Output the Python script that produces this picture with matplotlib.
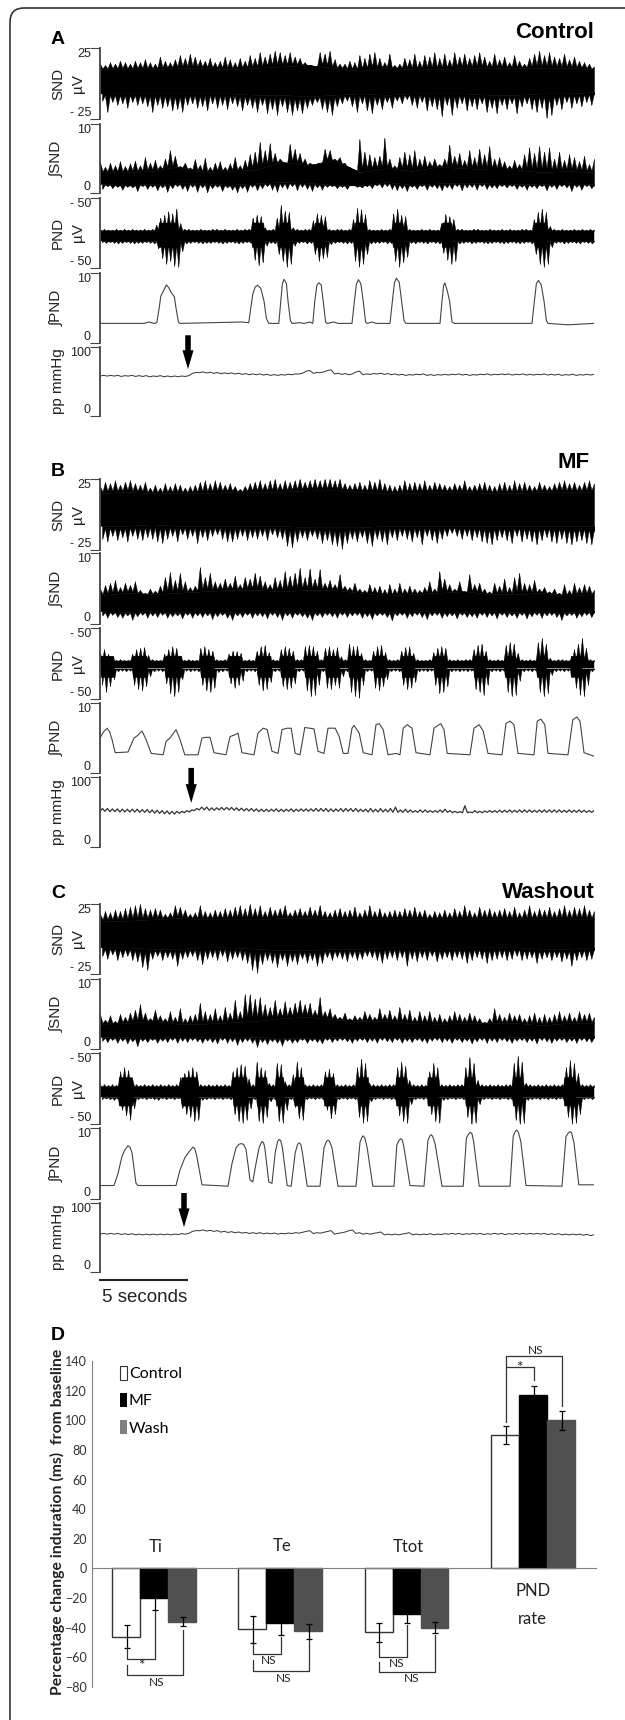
import matplotlib
matplotlib.use("Agg")
import matplotlib.pyplot as plt
import numpy as np
from matplotlib.patches import PathPatch, Patch
from matplotlib.path import Path

plt.rcParams["font.family"] = ["Liberation Sans", "DejaVu Sans"]

# recording time runs in samples, 217 samples is the 5 second scale bar
trace_end = 1235
scale_bar = 217

# panel A, tips of the raw traces
snd_a_up = [14,13,15,14,16,15,14,16,15,17, 15,14,19,16,15,17,20,18,21,19, 17,16,18,15,16,19,17,15,18,16,
            20,18,22,19,21,23,22,20,22,19, 18,15,13,11,22,21,23,17,14,14, 16,15,20,18,21,22,18,15,21,13,
            14,18,17,21,16,20,19,22,18,21, 17,22,19,21,18,20,22,19,16,21, 17,19,15,20,16,14,18,21,23,20,
            22,19,18,21,17,19,16,15,14,12]
snd_a_low = [-12,-20,-13,-15,-14,-17,-13,-15,-14,-16, -20,-15,-17,-16,-19,-18,-20,-15,-14,-17, -16,-19,-14,-17,-15,-18,-14,-16,-19,-15,
             -17,-20,-15,-21,-18,-22,-16,-20,-22,-19, -21,-17,-15,-13,-18,-20,-22,-16,-14,-12, -16,-20,-14,-19,-21,-15,-18,-13,-17,-12,
             -14,-11,-15,-17,-13,-19,-16,-18,-23,-15, -22,-17,-14,-19,-16,-18,-14,-20,-17,-21, -15,-18,-14,-21,-16,-14,-18,-20,-17,-24,
             -22,-15,-18,-13,-17,-14,-16,-13,-15,-11]
snd_a_core_up = [10,10,10,11,11,10,11,12,13,11,9,11,10,10,11,11,11,11,11,10]
snd_a_core_low = [-7,-7,-7,-7,-7,-7,-8,-8,-9,-8,-7,-8,-7,-7,-7,-8,-8,-7,-7,-6]

int_snd_a_up = [4.5,3.8,4.4,4.0,4.6,3.9,4.3,4.7,4.0,5.2, 4.4,4.8,4.0,5.0,6.2,5.4,3.9,4.4,3.7,4.9, 4.1,5.1,3.8,4.4,4.6,3.8,4.3,5.2,4.0,4.8,
                5.6,6.0,7.4,6.2,7.2,5.8,5.0,3.9,7.1,6.4, 5.8,5.0,4.4,3.6,4.4,6.4,6.2,5.0,5.2,4.4, 3.8,3.4,7.8,6.0,5.6,5.2,5.4,8.0,5.0,4.0,
                5.2,6.0,5.6,6.2,5.0,5.4,4.6,5.0,4.2,5.0, 7.0,5.4,5.8,4.8,6.2,5.2,6.4,5.6,6.8,5.0, 5.2,4.6,4.0,4.8,4.2,5.6,6.6,5.8,6.8,6.0,
                6.6,5.0,6.0,4.8,5.6,5.2,4.6,5.4,4.2,5.0]
int_snd_a_low = [0.6,1.0,0.7,0.9,0.5,0.9,0.8,0.3,1.0,0.6, 0.9,0.4,0.8,0.2,0.7,1.0,0.6,0.3,0.9,0.2, 0.8,0.1,0.7,0.9,0.3,0.8,0.5,0.1,0.7,0.2,
                 0.9,0.4,0.7,1.0,0.5,0.2,0.8,0.6,1.0,0.4, 0.9,0.6,0.3,0.8,0.5,0.9,1.0,0.7,0.9,0.6, 1.1,0.9,0.8,1.0,0.7,1.1,0.8,1.0,0.6,0.4,
                 0.7,0.3,0.9,0.6,1.0,0.5,0.9,0.7,0.4,0.8, 0.6,1.0,0.4,0.8,0.9,0.5,1.0,0.6,0.8,0.7, 1.0,0.8,1.0,0.6,0.9,0.5,0.9,0.7,1.0,0.4,
                 0.9,0.6,1.0,0.8,0.3,0.9,0.5,1.0,0.7,0.3]
int_snd_a_core_up = [3.0,3.0,3.2,3.8,3.0,3.2,3.4,4.5,4.0,4.8,3.0,3.6,3.2,3.8,3.6,3.4,3.4,3.0,3.2,3.0]
int_snd_a_core_low = [1.3,1.2,1.3,1.4,1.4,1.2,1.4,1.6,1.5,1.2,1.1,1.6,1.2,1.4,1.5,1.4,1.3,1.3,1.4,1.3]

pnd_a_up = [5,6,5,5,6,5,6,5,6,5, 5,6,5,6,12,22,26,31,28,35, 14,6,6,5,5,6,5,5,6,6, 5,6,5,5,6,5,6,6,22,26,
            24,8,5,6,22,40,32,30,8,6, 5,6,6,18,28,26,24,6,5,6, 6,5,6,20,36,34,27,6,5,5, 6,5,6,28,35,26,24,6,5,5,
            6,5,6,5,5,14,27,24,20,6, 6,5,5,6,6,5,5,6,5,5, 6,5,6,5,5,6,6,5,20,30, 35,30,10,6,5,6,5,5,6,5, 6,5,6,5]
pnd_a_low = [-13,-14,-13,-14,-15,-14,-13,-14,-15,-14, -14,-13,-14,-15,-22,-36,-44,-40,-47,-48, -26,-15,-14,-13,-14,-15,-14,-14,-13,-14,
             -15,-14,-13,-14,-15,-14,-13,-14,-38,-46, -42,-18,-14,-15,-30,-40,-48,-44,-18,-14, -13,-15,-14,-30,-40,-36,-34,-16,-14,-13,
             -14,-15,-14,-40,-48,-44,-30,-15,-14,-14, -13,-15,-14,-40,-48,-42,-34,-14,-15,-13, -14,-15,-13,-14,-15,-28,-38,-44,-40,-15,
             -14,-13,-15,-14,-13,-14,-15,-14,-13,-14, -15,-14,-13,-14,-15,-14,-13,-15,-30,-44, -48,-44,-20,-14,-13,-15,-14,-13,-14,-15, -13,-14,-15,-14]
pnd_a_base = (3, -11)
pnd_a_start = [145, 378, 447, 535, 635, 730, 853, 1085]
pnd_a_stop = [195, 410, 475, 558, 662, 758, 880, 1115]
pnd_a_burst = (15, -20)

int_pnd_a_t = [0,110,122,135,142,148,152,160,166,172,178,186,190,196,200, 355,372,377,382,388,394,402,410,416,422,
               447,452,456,460,466,470,476,480, 500,510,525,532,537,542,547,553,558,564,568, 585,595,630,636,641,646,652,658,664,668,
               680,690,725,731,736,741,748,754,760,765, 850,855,859,862,868,874,880,886, 1080,1086,1091,1096,1103,1110,1116,1120,1170,1235]
int_pnd_a_v = [2.8,2.8,3.0,2.8,2.9,5.0,6.7,7.6,8.3,7.9,7.2,6.6,5.0,3.0,2.8, 3.0,2.9,5.0,7.0,8.0,8.25,7.8,6.0,3.5,2.8,
               2.8,6.0,8.5,9.1,8.5,6.0,3.2,2.8, 2.9,2.8,3.0,2.8,6.0,8.2,8.6,8.3,6.0,3.0,2.8, 3.0,2.8,2.8,6.0,8.4,9.05,8.5,6.0,3.0,2.8,
               3.0,2.8,2.8,6.0,8.6,9.25,8.7,6.0,3.2,2.8, 2.8,6.0,8.2,8.6,7.5,6.0,3.0,2.8, 2.8,6.0,8.5,8.95,8.3,6.0,3.2,2.8,2.6,2.8]

pp_a_top = [59,59,59,58.5,59,58.5,58.5,58,58.5,58, 58,58,58.5,63,64,63.5,63,62.5,62.5,62,
            61.5,61,61,60.5,60,60,60.5,61,62,66, 63,64,67,62,61.5,61,65,61,61.5,62,
            61.5,61,60.5,60,60.5,61,60,60,60.5,60.5, 61,60.5,60,60.5,61,60.5,61,61,60.5,61,
            60.5,60.5,61,60.5,60.5,60,60.5,60,60.5,60.5]
pp_a_swing = 1.2
pp_a_arrow = (220, 68, 117)

# panel B
snd_b_up = [20,23,22,24,21,23,24,22,21,23, 19,21,19,22,20,22,21,19,20,21, 23,24,22,24,23,21,22,20,18,20,
            22,23,24,22,24,25,22,24,23,24, 25,23,24,25,24,25,25,24,25,22, 21,22,23,21,24,23,25,22,21,20,
            21,24,22,23,22,24,21,23,22,21, 20,22,21,24,20,21,22,23,21,20, 22,23,21,24,22,23,21,20,23,21,
            20,22,23,24,22,23,21,23,24,22]
snd_b_low = [-17,-19,-15,-18,-16,-19,-15,-17,-18,-16, -17,-19,-20,-17,-15,-19,-14,-17,-15,-20, -16,-18,-15,-14,-17,-19,-19,-17,-15,-18,
             -16,-17,-15,-18,-14,-16,-17,-22,-23,-19, -16,-18,-15,-17,-20,-18,-21,-22,-24,-20, -17,-19,-16,-20,-22,-17,-19,-21,-16,-18,
             -15,-17,-19,-16,-21,-15,-18,-20,-17,-15, -13,-15,-17,-15,-18,-16,-19,-20,-21,-18, -16,-18,-20,-15,-19,-17,-19,-21,-18,-16,
             -19,-20,-17,-20,-21,-19,-18,-20,-21,-19]
snd_b_core_up = [15,16,15,15,15,16,16,16,17,17,16,15,15,16,16,15,15,16,16,16]
snd_b_core_low = [-8,-8,-7,-8,-8,-8,-8,-8,-9,-9,-9,-8,-8,-8,-8,-8,-8,-8,-8,-8]

int_snd_b_up = [5.0,5.5,5.8,6.2,5.2,5.8,5.5,6.0,4.8,4.4, 5.0,4.7,5.4,6.6,7.3,6.2,7.2,6.0,5.2,5.4, 8.0,6.6,7.2,6.0,5.8,6.4,5.8,6.8,5.6,6.6,
                6.4,7.2,6.8,6.0,5.6,6.6,6.2,7.4,6.8,7.2, 7.9,6.6,7.8,6.4,7.7,5.8,6.2,5.6,7.0,5.4, 5.2,5.8,5.0,4.8,5.6,5.2,5.4,4.9,5.6,5.0,
                5.8,5.0,5.4,5.0,4.8,5.2,6.0,5.0,7.4,6.4, 5.6,5.0,6.0,4.6,7.0,5.6,5.8,5.0,4.6,5.8, 5.4,6.4,5.2,6.6,7.2,5.8,5.6,6.2,5.0,5.2,
                4.6,5.0,4.4,5.6,4.8,5.8,5.2,5.6,5.4,4.8]
int_snd_b_low = [1.2,0.9,1.3,1.0,0.9,1.2,0.6,1.1,1.3,0.9, 1.2,1.0,1.3,0.9,1.1,1.2,0.8,1.3,0.9,1.2, 1.0,1.2,0.7,1.1,1.3,0.9,0.6,1.2,1.0,1.3,
                 0.9,1.2,1.1,0.8,1.3,1.0,0.6,1.2,0.9,1.3, 1.1,0.9,0.6,1.2,1.0,1.3,1.1,0.9,1.3,1.0, 1.2,1.3,0.9,1.1,0.7,1.2,1.3,1.0,0.5,1.2,
                 1.3,0.9,1.1,1.3,1.0,0.7,1.2,1.3,0.9,1.1, 1.2,0.8,1.3,1.0,1.1,0.9,1.3,1.0,1.2,0.8, 1.3,1.0,1.2,0.9,1.3,0.8,1.1,1.3,0.9,1.2,
                 1.3,1.0,0.6,1.2,1.3,0.9,1.1,1.3,1.0,1.2]
int_snd_b_core_up = [4.0,4.4,4.2,4.4,4.6,4.8,4.8,4.6,4.8,4.8,4.4,4.0,4.2,4.4,4.6,4.2,4.2,4.4,4.0,4.2]
int_snd_b_core_low = [1.8,1.7,1.8,1.7,1.8,1.7,1.8,1.8,1.7,1.8,1.8,1.7,1.8,1.8,1.7,1.8,1.7,1.8,1.7,1.8]

pnd_b_up = [15,20,14,10,5,6,5,5,14,20, 22,23,12,6,5,5,14,20,24,22, 10,5,6,5,5,22,24,20,18,6, 5,6,14,18,17,15,5,6,5,18,
            24,26,16,6,5,20,24,22,18,6, 6,24,26,24,18,6,22,24,20,23, 10,6,28,24,25,15,6,5,18,24, 26,16,6,5,6,18,23,24,15,6,
            5,5,6,16,22,24,22,6,5,6, 5,6,6,20,26,28,18,6,5,6, 5,26,30,28,15,6,5,6,5,30, 36,28,8,5,6,6,5,5,20,28, 36,22,6,5]
pnd_b_low = [-30,-40,-32,-22,-11,-10,-11,-10,-30,-36, -38,-32,-18,-11,-10,-11,-28,-42,-46,-40, -22,-10,-11,-10,-11,-30,-38,-40,-34,-12,
             -11,-10,-28,-34,-30,-24,-11,-10,-11,-30, -38,-36,-26,-11,-10,-32,-36,-34,-28,-11, -10,-38,-46,-44,-30,-11,-34,-36,-30,-34,
             -18,-11,-40,-46,-48,-30,-11,-10,-34,-38, -32,-22,-11,-10,-11,-30,-36,-34,-26,-11, -10,-11,-10,-30,-42,-40,-32,-11,-10,-11,
             -10,-11,-10,-36,-40,-44,-30,-11,-10,-11, -10,-40,-46,-44,-24,-11,-10,-11,-10,-40, -46,-42,-16,-11,-10,-11,-10,-11,-34,-44, -46,-30,-11,-10]
pnd_b_base = (3, -7)
pnd_b_start = [0, 80, 162, 250, 320, 392, 450, 510, 563, 620, 683, 753, 835, 933, 1010, 1090, 1175]
pnd_b_stop = [35, 118, 205, 285, 350, 428, 485, 542, 598, 655, 715, 785, 865, 965, 1040, 1115, 1205]
pnd_b_burst = (11, -19)

int_pnd_b_t = [0,9,18,24,30,38,70,85,95,105,115,128,158,165,175,190,200,212,245,255,265,275,285,315,325,335,345,355,
               385,395,408,418,430,445,455,468,478,488,500,512,524,535,545,560,570,588,598,608,620,630,635,648,658,
               680,690,698,708,720,740,750,758,768,780,790,825,835,845,852,860,868,925,935,948,958,970,
               1005,1015,1025,1035,1045,1085,1093,1102,1112,1120,1170,1182,1192,1200,1210,1235]
int_pnd_b_v = [5.0,5.9,6.4,5.9,4.8,2.9,3.0,5.0,5.4,6.0,4.8,2.8,2.6,4.5,5.0,6.2,4.8,2.6,2.6,5.0,5.1,5.1,2.9,2.6,5.2,5.4,5.7,2.9,
               2.6,5.7,6.4,6.2,3.1,2.8,6.2,6.4,6.4,2.8,2.6,6.5,6.4,6.3,3.1,2.8,6.4,6.4,5.2,2.8,2.8,6.4,6.8,5.7,2.9,
               2.6,6.9,7.05,6.2,2.6,2.8,2.6,6.4,6.9,6.4,2.9,2.6,6.4,6.8,7.05,6.2,2.8,2.6,6.4,6.9,6.0,2.8,
               2.6,7.1,7.4,6.9,2.8,2.6,7.4,7.7,6.9,2.8,2.6,7.6,8.0,7.4,2.9,2.4]

pp_b_top = [55,55,54.5,54.5,54,54,54,54,53.5,53.5, 53,52.5,52,51.5,51,51,51,52,53,55, 57,57,56,56,56.5,56.5,56.5,56,55.5,55,
            55,54.5,54,54,54,54.5,54,54,54.5,54, 54.5,54.5,54.5,55,55,55,54.5,54.5,55,55, 55,55,54,54,55,54,55,54,55,57,
            53,54,53,52,53,53,52,52,53,54, 52,51,50.5,59,50,52,51,51.5,52,52, 52.5,52.5,53,52.5,53,53,53,52.5,53,53,
            53,53,53,52.5,53,52.5,53,52.5,52,52]
pp_b_low = [51,51,50.5,50.5,50,50,50,50,49.5,49.5, 49,48.5,48,47.5,47,47,48,49,50,52, 53,53,52.5,52.5,53,53,53,52.5,52,51.5,
            51.5,51,50.5,50.5,50.5,51,50.5,50.5,51,50.5, 51,51,51,51,51,51,50.5,50.5,51,50.5, 51,50.5,50.5,50.5,50,50,50,50,50,49.5,
            49.5,49.5,49.5,49.5,49.5,49.5,49.5,49.5,49.5,49.5, 49.5,49,49,49,49,49,49,49,49.5,49.5, 49.5,49.5,49.5,49.5,49.5,49.5,49.5,49.5,49.5,49.5,
            49.5,49.5,49.5,49.5,49.5,49.5,49.5,49.5,49.5,49.5]
pp_b_arrow = (228, 63, 113)

# panel C
snd_c_up = [18,20,19,21,20,22,23,24,25,22, 21,22,21,18,19,24,23,21,18,19, 24,20,19,21,20,22,21,23,24,22,
            25,22,24,20,23,21,22,24,19,21, 22,20,23,21,24,20,19,21,22,20, 21,23,19,21,24,20,22,19,20,21,
            20,22,21,23,20,21,18,20,19,21, 19,22,20,24,21,19,23,21,22,20, 21,22,20,23,19,21,24,20,22,21,
            23,20,22,24,21,23,22,24,21,20]
snd_c_low = [-12,-14,-11,-15,-13,-12,-15,-16,-20,-22, -14,-12,-15,-13,-14,-19,-14,-13,-12,-15, -18,-14,-13,-15,-12,-16,-14,-13,-15,-17,
             -22,-24,-18,-15,-17,-20,-15,-19,-16,-18, -14,-17,-15,-19,-17,-13,-15,-13,-14,-16, -13,-15,-14,-12,-13,-15,-17,-14,-13,-15,
             -13,-19,-14,-16,-13,-15,-12,-16,-14,-13, -15,-13,-14,-17,-15,-13,-14,-17,-15,-14, -13,-15,-14,-12,-15,-14,-13,-17,-14,-13,
             -15,-13,-16,-14,-19,-15,-13,-15,-14,-12]
snd_c_core_up = [13,13,14,15,14,14,14,15,15,14,14,14,14,14,14,14,14,14,14,14]
snd_c_core_low = [-6,-6,-7,-7,-6,-6,-7,-8,-8,-7,-7,-6,-6,-7,-6,-6,-6,-7,-7,-6]

int_snd_c_up = [5.0,4.2,4.8,4.0,5.0,4.6,5.2,5.6,6.4,5.2, 4.4,5.6,4.8,4.4,5.4,4.6,5.8,4.4,4.8,5.0, 6.6,5.4,5.0,5.8,4.8,6.0,5.2,7.0,5.4,7.8,
                7.8,7.2,7.4,6.4,6.0,7.0,5.8,6.8,6.0,6.6, 7.0,6.4,6.6,5.6,7.4,5.4,5.8,5.0,4.6,5.2, 4.4,4.8,4.6,5.4,5.0,4.6,5.8,5.0,5.6,4.8,
                6.0,5.0,5.6,4.6,5.4,4.8,5.4,4.6,5.0,4.4, 4.8,5.4,5.0,4.6,5.2,4.8,4.4,3.9,4.4,5.8, 5.0,4.6,5.2,4.8,5.0,4.4,4.8,5.2,4.6,5.0,
                4.6,5.0,5.4,4.8,5.2,4.6,5.4,5.0,5.2,4.6]
int_snd_c_low = [1.2,1.0,1.3,0.9,1.2,0.8,1.1,0.4,1.2,1.0, 1.3,0.9,1.2,1.0,1.3,0.9,1.2,1.0,1.3,1.1, 0.9,1.2,1.0,0.8,1.3,0.9,1.1,0.6,1.0,1.2,
                 0.9,0.3,1.0,0.7,1.1,0.9,0.5,1.2,0.9,1.0, 1.3,0.9,1.2,1.0,0.8,1.3,1.0,1.2,1.3,1.1, 0.9,1.2,1.3,1.0,1.2,0.9,1.3,1.1,1.0,1.3,
                 0.9,1.2,1.0,1.3,1.1,0.9,1.2,1.3,1.0,1.2, 0.9,1.3,1.0,1.2,0.8,1.1,1.3,0.9,1.2,1.0, 1.3,1.1,0.9,1.2,1.3,1.0,1.2,0.8,1.3,1.1,
                 0.9,1.2,1.3,1.0,1.2,0.9,1.3,1.1,1.0,1.2]
int_snd_c_core_up = [3.6,3.7,4.0,3.6,3.6,3.8,4.0,4.4,4.6,4.2,4.0,4.0,3.7,3.6,3.7,3.7,3.7,3.4,3.7,3.7]
int_snd_c_core_low = [1.7,1.7,1.6,1.8,1.7,1.8,1.7,1.6,1.6,1.7,1.7,1.8,1.7,1.8,1.7,1.8,1.7,1.8,1.7,1.8]

pnd_c_up = [5,6,5,6,5,24,30,26,14,6, 5,6,5,6,5,6,5,6,5,6, 16,22,26,30,24,6,5,6,5,6, 5,6,5,24,30,34,32,14,6,38,
            30,26,8,6,36,34,10,6,20,38, 30,6,5,6,5,6,24,28,22,6, 5,6,5,6,30,42,36,8,6,5, 6,5,6,6,30,38,32,12,6,5,
            6,5,24,36,30,6,5,6,5,6, 6,30,44,36,12,6,5,6,5,6, 5,6,6,36,46,38,8,6,5,6, 5,6,5,6,5,6,30,40,36,22, 6,5,6,5]
pnd_c_low = [-15,-14,-15,-16,-15,-30,-38,-44,-28,-15, -14,-15,-14,-15,-16,-14,-15,-14,-15,-14, -28,-36,-40,-46,-44,-16,-15,-14,-15,-14,
             -15,-14,-15,-36,-46,-48,-44,-28,-15,-46, -48,-40,-18,-15,-46,-48,-30,-15,-26,-42, -44,-15,-14,-15,-14,-15,-30,-42,-36,-15,
             -14,-15,-14,-15,-40,-48,-46,-18,-15,-14, -15,-14,-15,-15,-38,-46,-48,-22,-15,-14, -15,-14,-36,-46,-48,-16,-15,-14,-15,-14,
             -15,-40,-50,-48,-22,-15,-14,-15,-14,-15, -14,-15,-15,-44,-50,-48,-16,-15,-14,-15, -14,-15,-14,-15,-14,-15,-40,-50,-48,-36, -15,-14,-15,-14]
pnd_c_base = (2, -12)
pnd_c_start = [45, 202, 332, 390, 438, 485, 558, 645, 738, 817, 912, 1030, 1158]
pnd_c_stop = [82, 245, 368, 418, 460, 510, 585, 672, 768, 845, 938, 1055, 1188]
pnd_c_burst = (16, -24)

int_pnd_c_t = [0,35,45,55,62,70,75,80,90,95,190,200,212,222,232,237,242,255,320,330,340,347,353,359,365,375,382,390,398,405,409,412,422,430,
               438,444,448,452,456,468,478,488,494,498,502,506,518,550,560,566,570,574,580,595,640,650,655,658,662,668,682,735,742,748,752,756,760,775,
               810,820,825,828,832,838,855,908,916,922,926,930,934,948,1025,1033,1038,1042,1046,1052,1065,1155,1165,1171,1175,1179,1185,1197,1235]
int_pnd_c_v = [1.9,1.9,3.6,6.0,6.9,7.5,7.3,6.5,2.2,1.9,1.9,4.1,5.8,6.6,7.3,7.1,6.0,2.0,1.8,5.0,7.2,7.7,7.8,7.7,7.0,2.7,2.4,5.0,7.3,8.1,7.9,7.2,2.4,2.2,
               6.5,8.1,8.4,8.2,7.2,1.9,1.8,6.5,7.7,7.9,7.7,6.5,1.8,1.8,7.2,8.1,8.3,8.1,7.2,1.8,1.8,8.0,8.7,8.9,8.6,7.2,1.8,1.8,7.6,8.3,8.5,8.3,7.2,1.9,
               1.8,8.3,8.9,9.05,8.8,7.7,1.8,1.8,8.6,9.2,9.4,9.2,8.1,1.8,1.8,8.8,9.5,9.7,9.4,8.1,1.9,1.8,8.8,9.3,9.5,9.3,7.9,2.0,2.0]

pp_c_top = [56,56,56,55.5,55.5,55,55,55,55,55, 55,55.5,56,60,61,60.5,60,59,58.5,58,
            57.5,57,57,56.5,56.5,56,56.5,57,57.5,60, 57,57.5,60,56,58,61,57,56,56,58,
            55,55,55,57,55,55,55.5,55,55.5,56, 56,55.5,56,56,55.5,56,56,55.5,56,56,
            56,56,56,55.5,55.5,55,55,55,54.5,54]
pp_c_swing = 1.2
pp_c_arrow = (210, 65, 114.5)

# panel D
groups = ["Ti", "Te", "Ttot", "PND\nrate"]
series_names = ["Control", "MF", "Wash"]
series_colors = ["white", "black", "#505050"]
control_vals = [-46, -41, -43, 90]
mf_vals = [-20, -37, -30.5, 117]
wash_vals = [-36, -42.5, -40, 100]
control_err = [8, 9, 6.3, 6.2]
mf_err = [8, 7.6, 6, 6]
wash_err = [3, 5, 3.7, 6.5]
group_label_y = [14.6, 15, 14.3, -10]

# group, bar 1, bar 2, line start at bar 1, line start at bar 2, bracket level
brackets = [(0, 0, 1, -53, -29, -61), (0, 0, 2, -65.3, -41.7, -71.6),
            (1, 0, 1, -50.7, -46, -58), (1, 0, 2, -61.5, -48.4, -69),
            (2, 0, 1, -49.5, -38.3, -60), (2, 0, 2, -63, -45, -69.8),
            (3, 0, 1, 99, 127, 136), (3, 0, 2, 136, 109.7, 143.7)]
sig_x = [-0.10, 0.02, 0.91, 1.03, 1.92, 2.04, 2.89, 3.02]
sig_y = [-66, -77, -62.4, -74, -64, -74.5, 135, 147]
sig_text = ["*", "NS", "NS", "NS", "NS", "NS", "*", "NS"]


fig = plt.figure(figsize=(6.25, 17.2), dpi=100)

# whole page in pixels, for the frame and the free text
page = fig.add_axes([0, 0, 1, 1])
page.set_xlim(0, 625)
page.set_ylim(1720, 0)
page.axis("off")


def trace_axes(top, bottom, ymin, ymax, labels):
    ax = fig.add_axes([100 / 625, 1 - bottom / 1720, 494 / 625, (bottom - top) / 1720])
    ax.patch.set_alpha(0)
    ax.set_xlim(0, trace_end)
    ax.set_ylim(ymin, ymax)
    for side in ["top", "right", "bottom"]:
        ax.spines[side].set_visible(False)
    ax.spines["left"].set_linewidth(1.3)
    ax.spines["left"].set_color("#444444")
    ax.set_xticks([])
    ax.set_yticks([ymin, ymax])
    ax.set_yticklabels(labels, fontsize=9, color="#222222")
    ax.tick_params(axis="y", length=7.2, width=0.8, color="#444444", pad=-0.7)
    ax.get_yticklabels()[0].set_va("bottom")
    ax.get_yticklabels()[1].set_va("top")
    return ax


def teeth(ax, tips, x_core, core, shift):
    # sharp spikes: every tip falls back towards the solid core before the next one
    tips = np.array(tips)
    x = np.linspace(0, trace_end, len(tips)) + shift
    step = x[1] - x[0]
    xs = np.empty(2 * len(x) - 1)
    xs[::2] = x
    xs[1::2] = x[:-1] + step / 2
    c_mid = np.interp(xs[1::2], x_core, core)
    nearest = np.where(np.abs(tips[:-1] - c_mid) < np.abs(tips[1:] - c_mid), tips[:-1], tips[1:])
    ys = np.empty(len(xs))
    ys[::2] = tips
    ys[1::2] = c_mid + 0.2 * (nearest - c_mid)
    base = np.interp(xs, x_core, core)
    # the thin edge closes the seam against the core
    ax.fill_between(xs, base, ys, color="black", lw=0.3)
    ax.vlines(x, base[::2], tips, color="black", lw=0.45, alpha=0.8)


def spiky_trace(ax, up, low, core_up, core_low):
    x_core = np.linspace(0, trace_end, len(core_up))
    ax.fill_between(x_core, core_low, core_up, color="black", lw=0.3)
    teeth(ax, up, x_core, core_up, 0)
    teeth(ax, low, x_core, core_low, 6)


def pnd_trace(ax, up, low, base, start, stop, burst):
    ax.fill_between([0, trace_end], base[1], base[0], color="black", lw=0.3)
    for s, e in zip(start, stop):
        ax.fill_between([s, s + 2, e - 2, e], [base[1], burst[1], burst[1], base[1]],
                        [base[0], burst[0], burst[0], base[0]], color="black", lw=0.3)
    teeth(ax, up, [0, trace_end], [base[0], base[0]], 0)
    teeth(ax, low, [0, trace_end], [base[1], base[1]], 5)


def pp_trace(ax, top, low, arrow, lw):
    # each heart beat goes from the low value to the top value
    y = np.column_stack((low, top)).ravel()
    x = np.linspace(0, trace_end, len(y))
    ax.plot(x, y, color="#333333", lw=lw)
    ax.annotate("", xy=(arrow[0], arrow[1]), xytext=(arrow[0], arrow[2]), annotation_clip=False,
                arrowprops=dict(width=4, headwidth=8, headlength=13.5, shrink=0, color="black", lw=0))


def side_labels(tops, bottoms):
    middles = [(t + b) / 2 for t, b in zip(tops, bottoms)]
    page.text(58, middles[0], "SND", rotation=90, ha="center", va="center", fontsize=11, color="#222222")
    page.text(78, middles[0], "µV", rotation=90, ha="center", va="center", fontsize=11, color="#222222")
    page.text(57, middles[1], "∫SND", rotation=90, ha="center", va="center", fontsize=11, color="#222222")
    page.text(58, middles[2], "PND", rotation=90, ha="center", va="center", fontsize=11, color="#222222")
    page.text(78, middles[2], "µV", rotation=90, ha="center", va="center", fontsize=11, color="#222222")
    page.text(57, middles[3], "∫PND", rotation=90, ha="center", va="center", fontsize=11, color="#222222")
    page.text(58, middles[4], "pp mmHg", rotation=90, ha="center", va="center", fontsize=11, color="#222222")


def draw_panel(tops, bottoms, snd, int_snd, pnd, int_pnd, pp):
    ax = trace_axes(tops[0], bottoms[0], -25, 25, ["- 25", "25"])
    spiky_trace(ax, *snd)
    ax = trace_axes(tops[1], bottoms[1], 0, 10, ["0", "10"])
    spiky_trace(ax, *int_snd)
    ax = trace_axes(tops[2], bottoms[2], -50, 50, ["- 50", "- 50"])
    pnd_trace(ax, *pnd)
    ax = trace_axes(tops[3], bottoms[3], 0, 10, ["0", "10"])
    ax.plot(int_pnd[0], int_pnd[1], color="#444444", lw=0.8)
    ax = trace_axes(tops[4], bottoms[4], 0, 100, ["0", "100"])
    pp_trace(ax, *pp)
    side_labels(tops, bottoms)
    return ax


draw_panel([48, 124, 198, 273, 347], [119, 193, 268, 343, 416],
           (snd_a_up, snd_a_low, snd_a_core_up, snd_a_core_low),
           (int_snd_a_up, int_snd_a_low, int_snd_a_core_up, int_snd_a_core_low),
           (pnd_a_up, pnd_a_low, pnd_a_base, pnd_a_start, pnd_a_stop, pnd_a_burst),
           (int_pnd_a_t, int_pnd_a_v),
           (pp_a_top, np.array(pp_a_top) - pp_a_swing, pp_a_arrow, 0.7))

draw_panel([479, 553, 628, 703, 777], [550, 624, 699, 773, 847],
           (snd_b_up, snd_b_low, snd_b_core_up, snd_b_core_low),
           (int_snd_b_up, int_snd_b_low, int_snd_b_core_up, int_snd_b_core_low),
           (pnd_b_up, pnd_b_low, pnd_b_base, pnd_b_start, pnd_b_stop, pnd_b_burst),
           (int_pnd_b_t, int_pnd_b_v),
           (pp_b_top, pp_b_low, pp_b_arrow, 0.9))

ax_c = draw_panel([904, 979, 1053, 1128, 1203], [974, 1049, 1124, 1199, 1272],
                  (snd_c_up, snd_c_low, snd_c_core_up, snd_c_core_low),
                  (int_snd_c_up, int_snd_c_low, int_snd_c_core_up, int_snd_c_core_low),
                  (pnd_c_up, pnd_c_low, pnd_c_base, pnd_c_start, pnd_c_stop, pnd_c_burst),
                  (int_pnd_c_t, int_pnd_c_v),
                  (pp_c_top, np.array(pp_c_top) - pp_c_swing, pp_c_arrow, 0.7))

# scale bar under the last trace
ax_c.plot([0, scale_bar], [-11.6, -11.6], color="#222222", lw=1.5, clip_on=False)
page.text(145, 1297, "5 seconds", ha="center", va="center", fontsize=13.5, color="#222222")

# panel letters and titles
for letter, y in zip("ABCD", [40, 471, 893, 1335]):
    page.text(51, y, letter, ha="left", va="center", fontsize=14, fontweight="bold", color="black")
page.text(594, 33, "Control", ha="right", va="center", fontsize=16, fontweight="bold", color="black")
page.text(590, 462, "MF", ha="right", va="center", fontsize=16, fontweight="bold", color="black")
page.text(595, 893, "Washout", ha="right", va="center", fontsize=16, fontweight="bold", color="black")

# frame with rounded corner, open at the right and bottom
frame = Path([(10, 1720), (10, 22), (10, 8), (24, 8), (625, 8)],
             [Path.MOVETO, Path.LINETO, Path.CURVE3, Path.CURVE3, Path.LINETO])
page.add_patch(PathPatch(frame, fill=False, edgecolor="#333333", lw=1.2))

# bar chart
bar_font = ["Lato", "DejaVu Sans"]
ax = fig.add_axes([92 / 625, 1 - 1687 / 1720, 504 / 625, 326 / 1720])
ax.patch.set_alpha(0)
ax.set_xlim(-0.49, 3.5)
ax.set_ylim(-80, 140)
for side in ["top", "right"]:
    ax.spines[side].set_visible(False)
ax.spines["bottom"].set_position(("data", 0))
ax.spines["bottom"].set_color("#808080")
ax.spines["left"].set_color("#808080")
ax.set_xticks([])
ax.set_yticks(np.arange(-80, 141, 20))
ax.tick_params(axis="y", length=0, pad=4, labelsize=9, labelcolor="#333333")
for lab in ax.get_yticklabels():
    lab.set_fontfamily(bar_font)

pos = np.arange(len(groups))
width = 0.2215
all_vals = [control_vals, mf_vals, wash_vals]
all_errs = [control_err, mf_err, wash_err]
for i in range(3):
    x = pos + (i - 1) * width
    ax.bar(x, all_vals[i], width, color=series_colors[i], edgecolor="#333333" if i == 0 else series_colors[i], lw=1, zorder=2)
    ax.errorbar(x + 0.006, all_vals[i], yerr=all_errs[i], fmt="none", ecolor="black", elinewidth=0.9,
                capsize=2, capthick=0.9, zorder=3)

for g, b1, b2, y1, y2, level in brackets:
    x1 = g + (b1 - 1) * width + 0.006
    x2 = g + (b2 - 1) * width + 0.006
    ax.plot([x1, x1, x2, x2], [y1, level, level, y2], color="#333333", lw=0.9, clip_on=False, zorder=4)

for x, y, s in zip(sig_x, sig_y, sig_text):
    ax.text(x, y, s, ha="center", va="center", fontsize=11 if s == "*" else 8.5, color="#222222", family=bar_font, clip_on=False)

for i, g in enumerate(groups):
    ax.text(i + (0.015 if i < 3 else 0), group_label_y[i], g, ha="center", va="center" if i < 3 else "top",
            fontsize=12, color="#222222", family=bar_font, linespacing=1.9)

handles = [Patch(facecolor="white", edgecolor="#333333", lw=0.8), Patch(facecolor="black"), Patch(facecolor="#808080")]
ax.legend(handles, series_names, loc="upper left", bbox_to_anchor=(0.04, 1.01), frameon=False, handlelength=0.45,
          handleheight=1.0, handletextpad=0.1, labelspacing=0.72, borderpad=0,
          prop={"family": bar_font, "size": 11.5})

page.text(57, 1522, "Percentage change induration (ms)  from baseline", rotation=90, ha="center", va="center",
          fontsize=11.3, fontweight="bold", color="#222222", family=bar_font)

fig.savefig("out.png", dpi=100)
